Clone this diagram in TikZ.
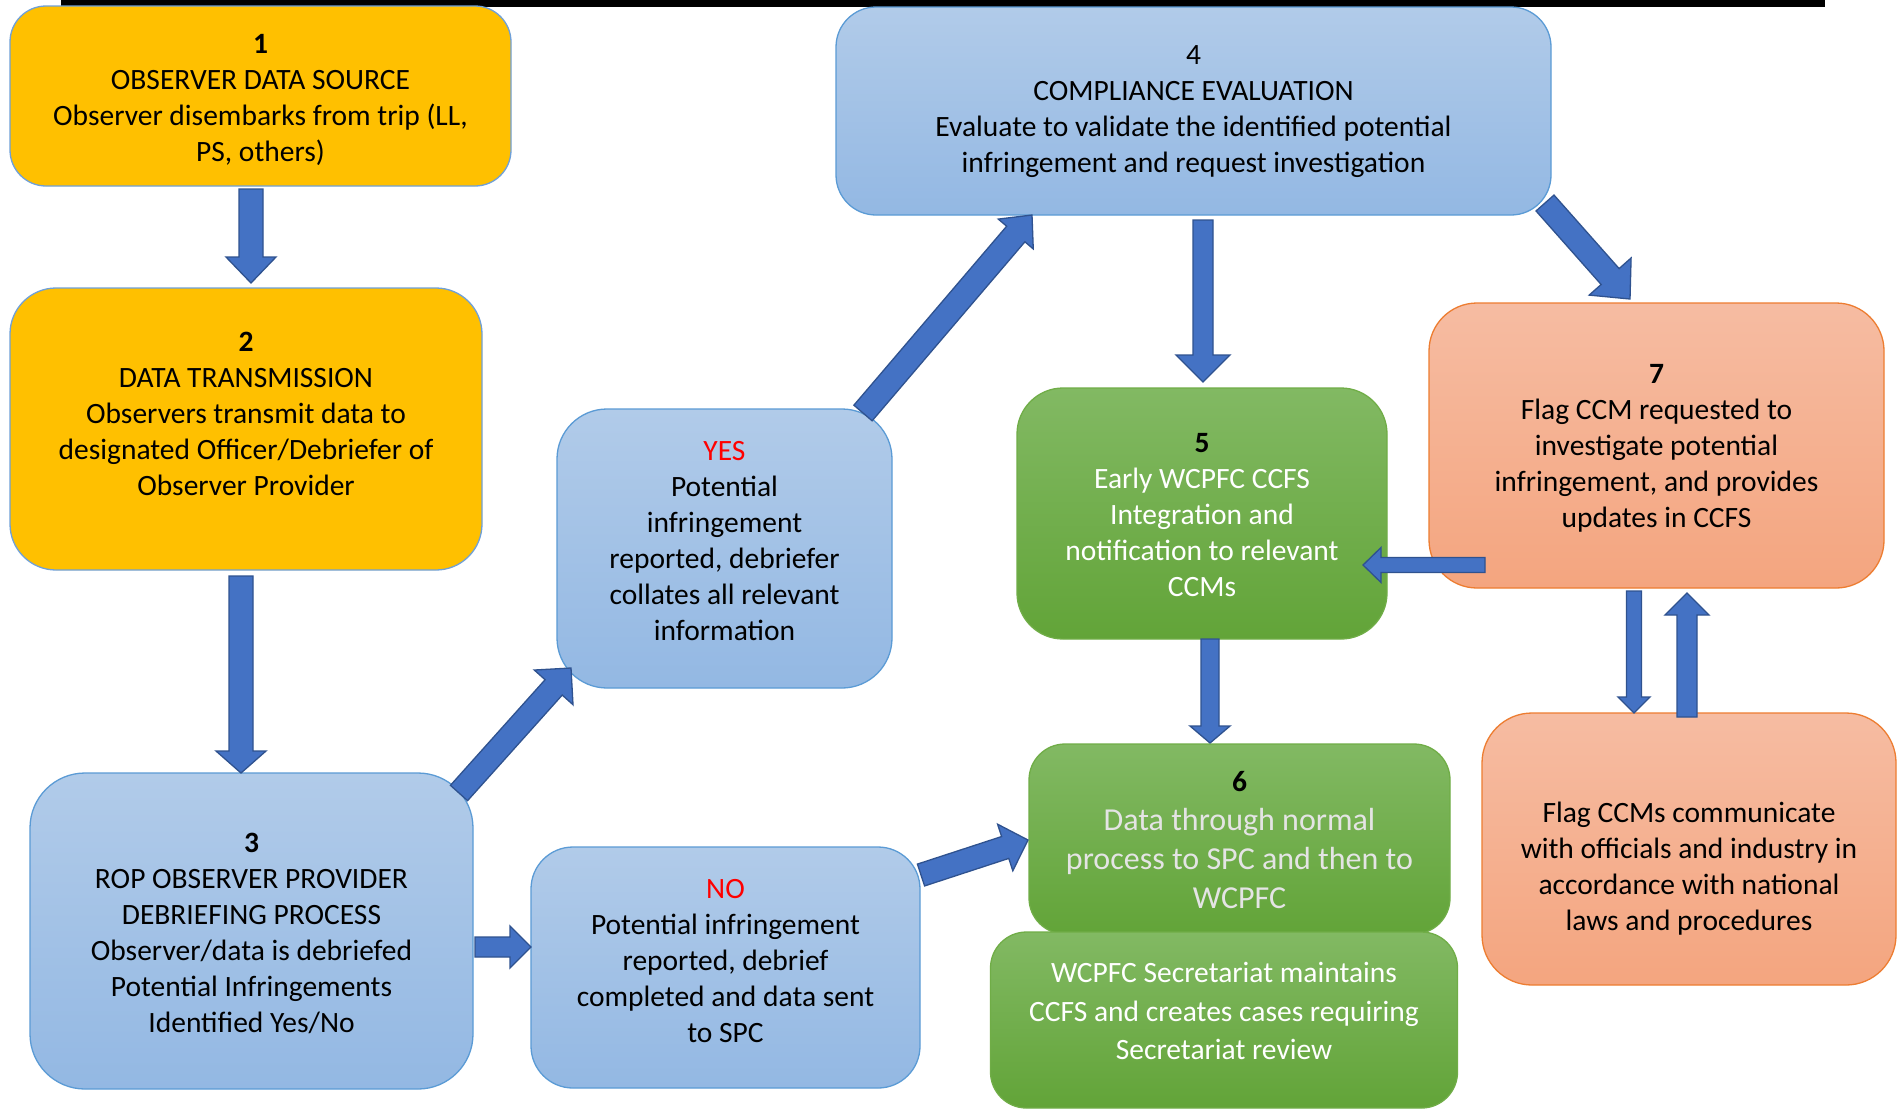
\documentclass[tikz,border=0pt]{standalone}
\usepackage{fontspec}
\setmainfont{Carlito}
\usetikzlibrary{calc}
\definecolor{gold}{HTML}{FFC000}
\definecolor{goldedge}{HTML}{6FA0D8}
\definecolor{bluetop}{HTML}{B1CBE9}
\definecolor{bluebot}{HTML}{93B8E3}
\definecolor{blueedge}{HTML}{5B9BD5}
\definecolor{greentop}{HTML}{82B963}
\definecolor{greenbot}{HTML}{62A438}
\definecolor{greenedge}{HTML}{70AD47}
\definecolor{salmtop}{HTML}{F6BCA2}
\definecolor{salmbot}{HTML}{F4A57F}
\definecolor{salmedge}{HTML}{ED7D31}
\definecolor{arrfill}{HTML}{4472C4}
\definecolor{arredge}{HTML}{2F528F}
\definecolor{greytext}{HTML}{E4E4E4}
\tikzset{
  boxbase/.style={rectangle, inner sep=0pt, line width=1.3pt},
  goldbox/.style={boxbase, rounded corners=#1, fill=gold, draw=goldedge},
  goldbox/.default=36pt,
  bluebox/.style={boxbase, rounded corners=#1, top color=bluetop, bottom color=bluebot, draw=blueedge},
  bluebox/.default=45pt,
  greenbox/.style={boxbase, rounded corners=#1, top color=greentop, bottom color=greenbot, draw=greenedge},
  greenbox/.default=40pt,
  salmbox/.style={boxbase, rounded corners=#1, top color=salmtop, bottom color=salmbot, draw=salmedge},
  salmbox/.default=45pt,
  txt/.style={align=center, inner sep=0pt, font=\fontsize{29.5}{36}\selectfont},
  blockarrow/.style={fill=arrfill, draw=arredge, line width=1.3pt, line join=miter},
}
% #1 start, #2 tip, #3 half shaft, #4 half head, #5 head length
\newcommand\BlockArr[5]{%
  \coordinate (tmpC) at ($(#2)!#5!(#1)$);
  \draw[blockarrow] ($(#1)!#3!90:(#2)$) -- ($(tmpC)!#3!-90:(#1)$) -- ($(tmpC)!#4!-90:(#1)$)
     -- (#2) -- ($(tmpC)!#4!90:(#1)$) -- ($(tmpC)!#3!90:(#1)$) -- ($(#1)!#3!-90:(#2)$) -- cycle;}
\begin{document}
\begin{tikzpicture}[x=1pt, y=-1pt]
\useasboundingbox (0,0) rectangle (1902,1109);
\fill[white] (0,0) rectangle (1902,1109);
\fill[black] (61,0) rectangle (1825,7);

% boxes
\node[goldbox=36pt, minimum width=501pt, minimum height=180pt] (b1) at (260.5,96) {};
\node[goldbox=46pt, minimum width=472pt, minimum height=282pt] (b2) at (246,429) {};
\node[bluebox=55pt, minimum width=443pt, minimum height=316pt] (b3) at (251.5,931) {};
\node[bluebox=50pt, minimum width=335pt, minimum height=279pt] (by) at (724.5,548.5) {};
\node[bluebox=40pt, minimum width=715pt, minimum height=208pt] (b4) at (1193.5,111) {};
\node[greenbox=46pt, minimum width=370pt, minimum height=251pt] (b5) at (1202,513.5) {};
\node[salmbox=48pt, minimum width=455pt, minimum height=285pt] (b7) at (1656.5,445.5) {};
\node[greenbox=36pt, minimum width=421pt, minimum height=190pt] (b6) at (1239.5,839) {};
\node[greenbox=36pt, minimum width=467pt, minimum height=176pt] (bs) at (1224,1020) {};
\node[salmbox=50pt, minimum width=414pt, minimum height=272pt] (bc) at (1689,849) {};
\node[bluebox=42pt, minimum width=389pt, minimum height=241pt] (bn) at (725.5,967.5) {};

% texts
\node[txt] (t1) at (260.5,100) {\textbf{1}\\OBSERVER DATA SOURCE\\Observer disembarks from trip (LL,\\PS, others)};
\node[txt] (t2) at (246,414) {\textbf{2}\\DATA TRANSMISSION\\Observers transmit data to\\designated Officer/Debriefer of\\Observer Provider};
\node[txt] (t3) at (251.5,933) {\textbf{3}\\ROP OBSERVER PROVIDER\\DEBRIEFING PROCESS\\Observer/data is debriefed\\Potential Infringements\\Identified Yes/No};
\node[txt] (ty) at (724.5,541) {\textcolor{red}{YES}\\Potential\\infringement\\reported, debriefer\\collates all relevant\\information};
\node[txt] (t4) at (1193.5,112) {4\\COMPLIANCE EVALUATION\\Evaluate to validate the identified potential\\infringement and request investigation};
\node[txt, text=white] (t5) at (1202,515) {\textcolor{black}{\textbf{5}}\\Early WCPFC CCFS\\Integration and\\notification to relevant\\CCMs};
\node[txt] (t7) at (1656.5,448) {\textbf{7}\\Flag CCM requested to\\investigate potential\\infringement, and provides\\updates in CCFS};
\node[txt, text=greytext, font=\fontsize{32}{39}\selectfont] (t6) at (1239.5,840) {\textcolor{black}{\fontsize{29.5}{39}\selectfont\textbf{6}}\\Data through normal\\process to SPC and then to\\WCPFC};
\node[txt, text=white, font=\fontsize{29.5}{38.5}\selectfont] (ts) at (1224,1011) {WCPFC Secretariat maintains\\CCFS and creates cases requiring\\Secretariat review};
\node[txt] (tc) at (1689,869) {Flag CCMs communicate\\with officials and industry in\\accordance with national\\laws and procedures};
\node[txt] (tn) at (725.5,961) {\textcolor{red}{NO}\\Potential infringement\\reported, debrief\\completed and data sent\\to SPC};

% arrow end points
\coordinate (a12s) at (251,189);  \coordinate (a12e) at (251,283);
\coordinate (a23s) at (241,576);  \coordinate (a23e) at (241,773);
\coordinate (a3ys) at (459,793);  \coordinate (a3ye) at (571,668);
\coordinate (ay4s) at (863,413);  \coordinate (ay4e) at (1032,215);
\coordinate (a45s) at (1203,220); \coordinate (a45e) at (1203,382);
\coordinate (a47s) at (1545,203); \coordinate (a47e) at (1630,299);
\coordinate (a75s) at (1485,565); \coordinate (a75e) at (1363,565);
\coordinate (a56s) at (1210,639); \coordinate (a56e) at (1210,743);
\coordinate (a7cs) at (1634,591); \coordinate (a7ce) at (1634,713);
\coordinate (ac7s) at (1687,717); \coordinate (ac7e) at (1687,593);
\coordinate (a3ns) at (475,947);  \coordinate (a3ne) at (531,947);
\coordinate (an6s) at (921,875);  \coordinate (an6e) at (1028,840);

\BlockArr{a12s}{a12e}{12pt}{25pt}{26pt}
\BlockArr{a23s}{a23e}{12pt}{25pt}{22pt}
\BlockArr{a3ys}{a3ye}{11.5pt}{26pt}{26pt}
\BlockArr{ay4s}{ay4e}{12pt}{23pt}{25pt}
\BlockArr{a45s}{a45e}{10pt}{27pt}{27pt}
\BlockArr{a47s}{a47e}{12pt}{28pt}{30pt}
\BlockArr{a75s}{a75e}{7.5pt}{17.5pt}{18pt}
\BlockArr{a56s}{a56e}{9pt}{20pt}{17pt}
\BlockArr{a7cs}{a7ce}{7.5pt}{16pt}{16pt}
\BlockArr{ac7s}{ac7e}{10pt}{22pt}{22pt}
\BlockArr{a3ns}{a3ne}{10pt}{21pt}{21pt}
\BlockArr{an6s}{an6e}{11.5pt}{24.5pt}{24pt}
\end{tikzpicture}
\end{document}
